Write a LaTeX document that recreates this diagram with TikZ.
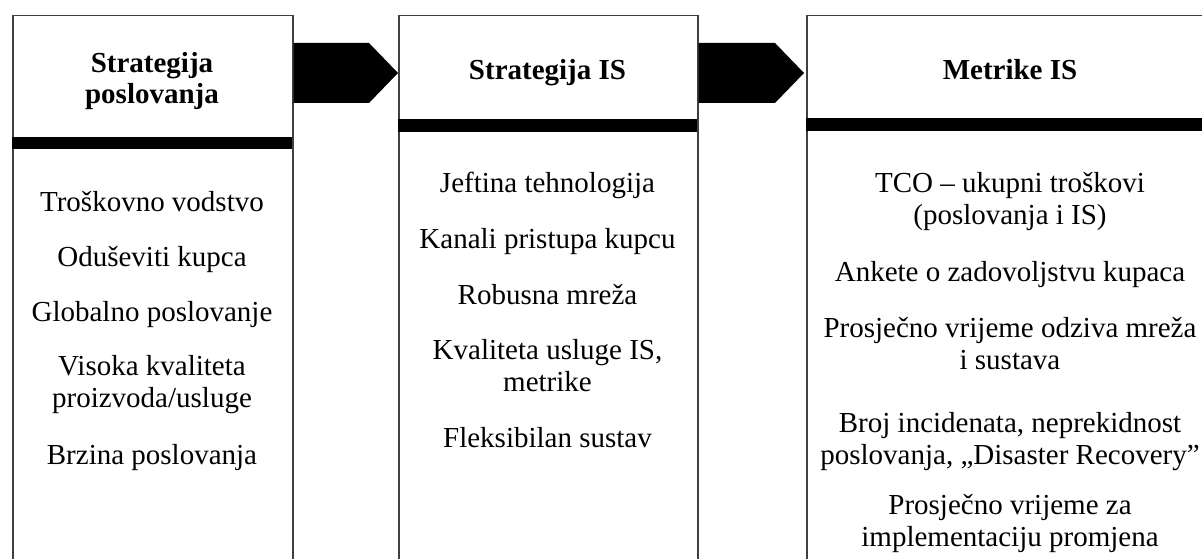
\documentclass[tikz,border=0pt]{standalone}
\usepackage{fontspec}
\setmainfont{Liberation Serif}
\usetikzlibrary{calc}

\tikzset{
  box/.style={draw=black!75, line width=1.5pt, minimum height=554pt, anchor=north west, inner sep=0pt},
  head/.style={font=\fontsize{29}{31}\selectfont\bfseries, align=center, anchor=base},
  item/.style={font=\fontsize{29}{32.5}\selectfont, align=center, anchor=base},
  flow/.style={fill=black}
}

\begin{document}
\begin{tikzpicture}[x=1pt,y=1pt]
    \clip (0,0) rectangle (1202,559);
    \fill[white] (0,0) rectangle (1202,559);

    % Boxes
    \node[box, minimum width=280pt] (stratbox) at (12,544) {};
    \node[box, minimum width=299pt] (isbox) at (398,544) {};
    \node[box, minimum width=408pt] (metbox) at (806,544) {};

    % Header bars
    \fill (12,410) rectangle (292,422);
    \fill (398,427) rectangle (697,440);
    \fill (806,428) rectangle (1214,441);

    % Arrows between boxes
    \fill[flow] ($(stratbox.north east)+(0,-28)$) -- ($(isbox.north west)+(-29,-28)$)
        -- ($(isbox.north west)+(0,-58)$) -- ($(isbox.north west)+(-29,-88)$)
        -- ($(stratbox.north east)+(0,-88)$) -- cycle;
    \fill[flow] ($(isbox.north east)+(0,-28)$) -- ($(metbox.north west)+(-31,-28)$)
        -- ($(metbox.north west)+(-2,-58)$) -- ($(metbox.north west)+(-31,-88)$)
        -- ($(isbox.north east)+(0,-88)$) -- cycle;

    % Headers (base = last line)
    \node[head] (strathead) at (152,455) {Strategija\\poslovanja};
    \node[head] (ishead) at (547.5,479) {Strategija IS};
    \node[head] (methead) at (1010,479) {Metrike IS};

    % Business strategy
    \node[item] (trosk) at (152,347) {Troškovno vodstvo};
    \node[item] (kupac) at (152,292) {Oduševiti kupca};
    \node[item] (glob) at (152,237) {Globalno poslovanje};
    \node[item] (kval) at (152,151) {Visoka kvaliteta\\proizvoda/usluge};
    \node[item] (brzina) at (152,94) {Brzina poslovanja};

    % IS strategy
    \node[item] (tehno) at (547.5,366) {Jeftina tehnologija};
    \node[item] (kanali) at (547.5,310) {Kanali pristupa kupcu};
    \node[item] (mreza) at (547.5,254) {Robusna mreža};
    \node[item] (usluga) at (547.5,167) {Kvaliteta usluge IS,\\metrike};
    \node[item] (sustav) at (547.5,111) {Fleksibilan sustav};

    % IS metrics
    \node[item] (tco) at (1010,334) {TCO – ukupni troškovi\\(poslovanja i IS)};
    \node[item] (ankete) at (1010,277) {Ankete o zadovoljstvu kupaca};
    \node[item] (odziv) at (1010,189) {Prosječno vrijeme odziva mreža\\i sustava};
    \node[item] (incid) at (1010,94) {Broj incidenata, neprekidnost\\poslovanja, „Disaster Recovery”};
    \node[item] (promj) at (1010,12) {Prosječno vrijeme za\\implementaciju promjena};
\end{tikzpicture}
\end{document}
